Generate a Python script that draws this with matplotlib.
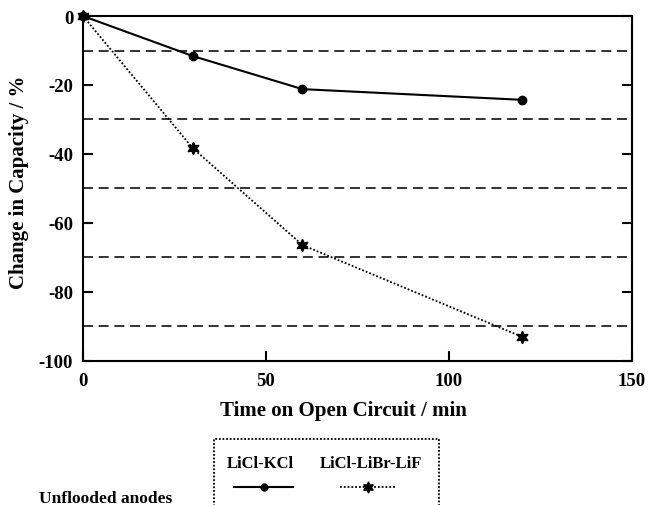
import matplotlib
matplotlib.use("Agg")
import matplotlib.pyplot as plt
from matplotlib.lines import Line2D
from matplotlib.patches import Rectangle

plt.rcParams['font.family'] = ['Liberation Serif', 'DejaVu Serif']
plt.rcParams['font.weight'] = 'bold'
plt.rcParams['axes.unicode_minus'] = False

# Capacity change after open-circuit stand
time_kcl = [0, 30, 60, 120]
cap_kcl = [0, -11.6, -21.2, -24.3]
time_lif = [0, 30, 60, 120]
cap_lif = [0, -38.3, -66.4, -93.0]

x_ticks = [0, 50, 100, 150]
y_ticks = [0, -20, -40, -60, -80, -100]
ref_levels = [-10, -30, -50, -70, -90]

series_names = ["LiCl-KCl", "LiCl-LiBr-LiF"]
group_label = "Unflooded anodes"

fig = plt.figure(figsize=(6.48, 5.06), dpi=100)
ax = fig.add_axes([0.128, 0.2846, 0.847, 0.6818])

for lv in ref_levels:
    ax.axhline(lv, color='#222222', lw=1.3, ls=(0, (5.5, 3.2)), zorder=1)

star = (6, 1, 0)
ax.plot(time_kcl, cap_kcl, color='black', lw=1.5, marker='o', ms=6,
        clip_on=False, zorder=3)
ax.plot(time_lif, cap_lif, color='black', lw=1.3, ls=(0, (1, 1.1)),
        marker=star, ms=9, clip_on=False, zorder=3)

ax.set_xlim(0, 150)
ax.set_ylim(-100, 0)
ax.set_xticks(x_ticks)
ax.set_yticks(y_ticks)
ax.tick_params(direction='in', length=7.5, width=1.5, labelsize=13.5,
               right=True, top=False)
ax.tick_params(axis='x', pad=8)
ax.tick_params(axis='y', pad=7)
for lab in ax.get_xticklabels() + ax.get_yticklabels():
    lab.set_fontweight('bold')
for s in ax.spines.values():
    s.set_linewidth(1.5)

ax.set_xlabel("Time on Open Circuit / min", fontsize=15, fontweight='bold')
ax.set_ylabel("Change in Capacity / %", fontsize=15, fontweight='bold')
ax.xaxis.set_label_coords(0.474, -0.112)
ax.yaxis.set_label_coords(-0.098, 0.52)

# Legend panel, drawn in figure coordinates
box = Rectangle((0.330, -0.05), 0.347, 0.1804, transform=fig.transFigure,
                fill=False, ec='black', lw=1.3, ls=(0, (1, 1)), clip_on=False)
fig.patches.append(box)
fig.text(0.401, 0.083, series_names[0], ha='center', va='center',
         fontsize=12, fontweight='bold')
fig.text(0.573, 0.083, series_names[1], ha='center', va='center',
         fontsize=12, fontweight='bold')
fig.add_artist(Line2D([0.361, 0.452], [0.0356, 0.0356], transform=fig.transFigure,
                      color='black', lw=1.5))
fig.add_artist(Line2D([0.407], [0.0356], transform=fig.transFigure,
                      color='black', marker='o', ms=5))
fig.add_artist(Line2D([0.525, 0.611], [0.0356, 0.0356], transform=fig.transFigure,
                      color='black', lw=1.3, ls=(0, (1, 1.1))))
fig.add_artist(Line2D([0.568], [0.0356], transform=fig.transFigure,
                      color='black', marker=star, ms=8))
fig.text(0.06, 0.006, group_label, ha='left', va='baseline',
         fontsize=12.5, fontweight='bold')

fig.savefig("out.png", dpi=100)
